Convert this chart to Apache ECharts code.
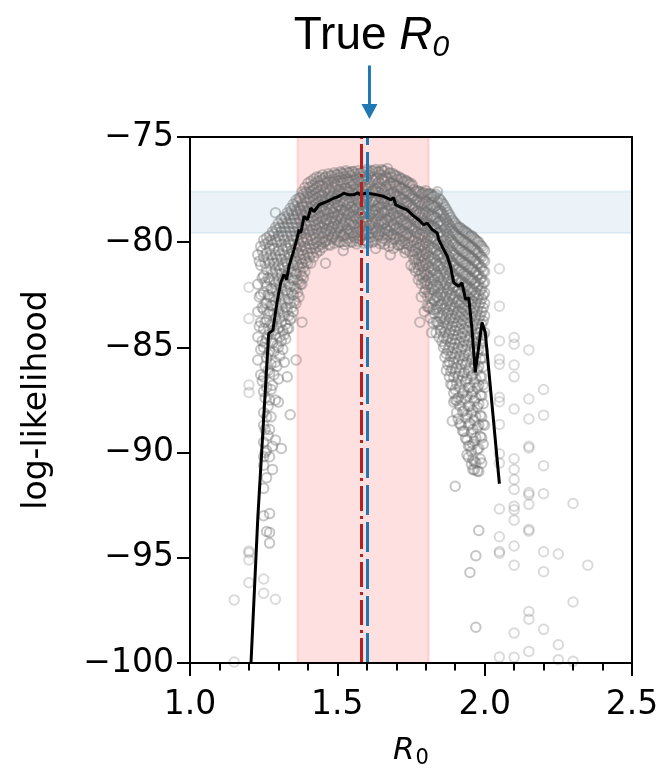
<!DOCTYPE html>
<html>
<head>
<meta charset="utf-8">
<script src="https://cdn.jsdelivr.net/npm/echarts@6/dist/echarts.min.js"></script>
<style>
html,body{margin:0;padding:0;background:#fff;overflow:hidden;}
#chart{width:667px;height:774px;}
</style>
</head>
<body>
<div id="chart"></div>
<script>
// ---------- data ----------
const lineR0 = [1.207,1.230,1.267,1.281,1.297,1.308,1.319,1.328,1.336,1.353,1.365,1.370,1.376,1.387,1.399,1.410,1.421,1.438,1.466,1.489,1.504,1.522,1.538,1.556,1.569,1.579,1.596,1.613,1.636,1.658,1.681,1.691,1.698,1.714,1.737,1.760,1.776,1.793,1.805,1.822,1.839,1.844,1.861,1.873,1.884,1.895,1.912,1.923,1.935,1.946,1.957,1.968,1.980,1.991,2.002,2.050];
const lineLL = [-100.0,-93.13,-84.33,-84.19,-82.72,-81.93,-81.53,-81.77,-81.14,-80.35,-79.72,-79.40,-79.56,-78.77,-78.93,-78.38,-78.54,-78.22,-78.06,-77.90,-77.83,-77.67,-77.75,-77.75,-77.65,-77.75,-77.67,-77.70,-77.75,-77.83,-77.98,-77.89,-78.22,-78.33,-78.46,-78.77,-78.93,-79.17,-79.09,-79.40,-79.56,-79.88,-80.35,-80.67,-81.14,-81.93,-82.09,-81.93,-82.72,-82.64,-84.14,-86.19,-84.93,-83.82,-84.29,-91.48];

const cloudLeft = [
 [1.23, [-80.6,-82.0,-83.3,-84.5,-85.6]],
 [1.24, [-80.2,-81.1,-82.5,-83.8,-85.1,-86.3]],
 [1.25, [-79.9,-80.7,-81.6,-82.4,-83.2,-84.1,-85.0,-86.4,-87.1,-88.1,-88.7,-89.5,-90.2,-90.6,-91.7,-93.0]],
 [1.26, [-79.8,-80.5,-81.3,-82.1,-82.9,-83.7,-84.6,-85.5,-86.9,-88.3,-89.9,-91.2,-93.75]],
 [1.27, [-79.7,-80.3,-81.0,-81.8,-82.6,-83.3,-84.2,-85.2,-86.2,-87.5,-88.9,-90.2,-92.9,-93.8,-94.3]],
 [1.28, [-79.5,-80.1,-80.8,-81.5,-82.3,-83.0,-83.9,-84.8,-86.8,-89.7,-90.8]],
 [1.29, [-78.6,-79.3,-79.9,-80.6,-81.3,-82.0,-82.8,-83.6,-84.4,-85.7,-87.5,-89.4]],
 [1.30, [-79.1,-79.7,-80.4,-81.1,-81.8,-82.5,-83.3,-84.1,-85.0,-86.5,-87.6]],
 [1.31, [-78.9,-79.5,-80.1,-80.8,-81.5,-82.2,-83.0,-83.8,-84.7,-89.8]],
 [1.32, [-78.8,-79.3,-79.9,-80.6,-81.2,-81.9,-82.7,-83.5,-84.4,-85.7]],
 [1.33, [-78.6,-79.1,-79.7,-80.3,-81.0,-81.6,-82.4,-83.2,-84.1,-86.4]],
 [1.34, [-78.4,-78.9,-79.5,-80.1,-80.7,-81.4,-82.1,-82.9,-83.7,-88.2]],
 [1.35, [-78.2,-78.7,-79.3,-79.9,-80.5,-81.1,-81.8,-82.5,-83.3]],
 [1.36, [-78.0,-78.5,-79.1,-79.7,-80.3,-80.9,-81.5,-82.2,-82.9,-85.6]],
 [1.37, [-77.9,-78.4,-78.9,-79.5,-80.1,-80.6,-81.2,-81.9,-82.6]],
 [1.38, [-77.6,-78.2,-78.7,-79.3,-79.9,-80.4,-81.0,-81.6,-82.0,-83.8]],
 [1.39, [-77.4,-77.9,-78.5,-79.1,-79.6,-80.2,-80.8,-81.4]],
 [1.40, [-77.2,-77.7,-78.3,-78.8,-79.4,-79.9,-80.5,-81.0]],
 [1.41, [-77.1,-77.6,-78.1,-78.6,-79.2,-79.7,-80.3,-81.0]],
 [1.42, [-77.0,-77.5,-78.0,-78.5,-79.0,-79.6,-80.1,-80.7]],
 [1.43, [-76.9,-77.4,-77.9,-78.4,-78.9,-79.4,-80.0,-80.5]],
 [1.44, [-76.9,-77.3,-77.8,-78.3,-78.8,-79.3,-79.9,-80.4]]
];
const cloudLeftB = [
 [1.235, [-80.9,-82.6,-84.0]],
 [1.245, [-80.4,-81.7,-83.1,-84.7,-86.6]],
 [1.255, [-80.1,-81.0,-81.9,-82.9,-83.8,-84.8,-85.9,-87.4,-88.9,-90.0]],
 [1.265, [-80.0,-80.8,-81.7,-82.5,-83.4,-84.4,-85.3,-86.1,-87.8,-89.2]],
 [1.275, [-79.9,-80.6,-81.3,-82.2,-83.0,-83.9,-84.7,-85.8,-87.0,-88.3]],
 [1.285, [-79.6,-80.3,-81.0,-81.8,-82.6,-83.4,-84.2,-85.2,-86.3]],
 [1.295, [-79.4,-80.0,-80.8,-81.5,-82.3,-83.1,-83.9,-84.9,-85.9]],
 [1.305, [-79.3,-79.9,-80.6,-81.3,-82.0,-82.8,-83.6,-84.5,-85.4]],
 [1.315, [-79.1,-79.7,-80.4,-81.1,-81.8,-82.5,-83.3,-84.2,-85.1]],
 [1.325, [-78.9,-79.5,-80.2,-80.9,-81.6,-82.3,-83.1,-83.9,-84.6]],
 [1.335, [-78.7,-79.3,-80.0,-80.6,-81.3,-82.0,-82.7,-83.5,-84.1]],
 [1.345, [-78.5,-79.1,-79.7,-80.4,-81.0,-81.7,-82.4,-83.1,-83.6]],
 [1.355, [-78.3,-78.9,-79.5,-80.1,-80.8,-81.4,-82.1,-82.8]],
 [1.365, [-78.1,-78.7,-79.3,-79.9,-80.5,-81.1,-81.8,-82.4]],
 [1.375, [-77.9,-78.5,-79.0,-79.6,-80.2,-80.8,-81.4,-82.0]],
 [1.385, [-77.7,-78.3,-78.8,-79.4,-80.0,-80.6,-81.2,-81.7]],
 [1.395, [-77.6,-78.1,-78.6,-79.2,-79.8,-80.3,-80.9]],
 [1.405, [-77.4,-77.9,-78.4,-79.0,-79.5,-80.1,-80.7]],
 [1.415, [-77.3,-77.8,-78.3,-78.8,-79.4,-79.9,-80.5]],
 [1.425, [-77.2,-77.7,-78.2,-78.7,-79.2,-79.8,-80.3]],
 [1.435, [-77.1,-77.6,-78.1,-78.6,-79.1,-79.6,-80.2]],
 [1.445, [-77.05,-77.55,-78.05,-78.55,-79.05,-79.55,-80.1]]
];

const cloudPeak = [
 [1.45, [-76.80,-77.30,-77.80,-78.30,-78.80,-79.30,-79.80,-80.25]],
 [1.46, [-76.90,-77.45,-77.95,-78.45,-78.95,-79.45,-79.95,-81.00]],
 [1.47, [-76.75,-77.15,-77.65,-78.15,-78.65,-79.15,-79.65,-80.10]],
 [1.48, [-76.85,-77.35,-77.85,-78.35,-78.85,-79.35,-79.85]],
 [1.49, [-76.70,-77.10,-77.60,-78.10,-78.60,-79.10,-79.60,-80.05]],
 [1.50, [-76.80,-77.30,-77.80,-78.25,-78.75,-79.25,-79.75]],
 [1.51, [-76.65,-77.05,-77.55,-78.05,-78.50,-79.00,-79.50,-80.00]],
 [1.52, [-76.75,-77.20,-77.70,-78.20,-78.70,-79.20,-79.70,-80.40]],
 [1.53, [-76.60,-77.00,-77.45,-77.95,-78.45,-78.95,-79.45,-79.95]],
 [1.54, [-76.70,-77.15,-77.65,-78.15,-78.65,-79.15,-79.65]],
 [1.55, [-76.65,-77.05,-77.55,-78.05,-78.55,-79.05,-79.55,-80.00]],
 [1.56, [-76.75,-77.25,-77.75,-78.25,-78.75,-79.25,-79.80]],
 [1.57, [-76.60,-77.00,-77.50,-78.00,-78.50,-79.00,-79.50,-79.95]],
 [1.58, [-76.70,-77.20,-77.70,-78.20,-78.70,-79.20,-79.70]],
 [1.59, [-76.65,-77.10,-77.60,-78.10,-78.60,-79.10,-79.60,-80.05]],
 [1.60, [-76.55,-77.00,-77.45,-77.95,-78.45,-78.95,-79.45,-79.95]],
 [1.61, [-76.70,-77.20,-77.70,-78.20,-78.70,-79.20,-79.75]],
 [1.62, [-76.60,-77.05,-77.55,-78.05,-78.55,-79.05,-79.55,-80.00]],
 [1.63, [-76.55,-77.00,-77.50,-78.00,-78.50,-79.00,-79.50,-80.30]],
 [1.64, [-76.65,-77.15,-77.65,-78.15,-78.65,-79.15,-79.65]],
 [1.65, [-76.55,-77.00,-77.45,-77.95,-78.45,-78.95,-79.45,-79.95]],
 [1.66, [-76.60,-77.10,-77.60,-78.10,-78.60,-79.10,-79.60,-80.10]],
 [1.67, [-76.50,-76.95,-77.45,-77.95,-78.45,-78.95,-79.45,-79.65]],
 [1.68, [-76.70,-77.20,-77.70,-78.20,-78.70,-79.20,-79.70,-80.60]],
 [1.69, [-76.75,-77.20,-77.65,-78.15,-78.65,-79.15,-79.65,-80.30]],
 [1.70, [-76.85,-77.30,-77.80,-78.30,-78.80,-79.30,-79.80]],
 [1.71, [-76.90,-77.35,-77.85,-78.35,-78.85,-79.35,-79.85,-80.15]],
 [1.72, [-77.00,-77.45,-77.95,-78.45,-78.95,-79.45,-79.95]],
 [1.73, [-77.05,-77.55,-78.05,-78.55,-79.05,-79.55,-80.05,-80.50]],
 [1.74, [-77.15,-77.60,-78.10,-78.60,-79.10,-79.60,-80.10]],
 [1.75, [-77.20,-77.70,-78.20,-78.70,-79.20,-79.70,-80.20,-81.10]]
];
const cloudPeakB = [
 [1.455, [-76.95,-77.62,-78.11,-78.49,-79.12,-79.58,-80.02]],
 [1.465, [-77.08,-77.41,-77.98,-78.61,-78.92,-79.37,-79.91]],
 [1.475, [-76.84,-77.52,-77.89,-78.42,-79.03,-79.48,-80.15]],
 [1.485, [-77.01,-77.38,-78.02,-78.57,-78.83,-79.27,-79.76]],
 [1.495, [-76.78,-77.27,-77.93,-78.36,-78.97,-79.52,-79.88]],
 [1.505, [-76.92,-77.49,-77.81,-78.28,-78.71,-79.33,-79.97]],
 [1.515, [-76.71,-77.18,-77.71,-78.44,-78.86,-79.21,-79.69]],
 [1.525, [-76.88,-77.42,-78.08,-78.52,-79.08,-79.61,-80.12]],
 [1.535, [-76.69,-77.13,-77.63,-78.19,-78.67,-79.38,-79.82]],
 [1.545, [-76.83,-77.36,-77.87,-78.33,-78.94,-79.46,-79.98]],
 [1.555, [-76.64,-77.22,-77.68,-78.46,-78.78,-79.16,-79.72]],
 [1.565, [-76.91,-77.47,-77.96,-78.38,-78.89,-79.53,-80.08]],
 [1.575, [-76.73,-77.11,-77.58,-78.13,-78.63,-79.28,-79.84]],
 [1.585, [-76.86,-77.39,-77.91,-78.54,-79.02,-79.43,-79.93]],
 [1.595, [-76.67,-77.26,-77.74,-78.22,-78.81,-79.24,-79.66]],
 [1.605, [-76.81,-77.33,-77.84,-78.41,-78.96,-79.57,-80.03]],
 [1.615, [-76.62,-77.16,-77.66,-78.07,-78.69,-79.19,-79.77]],
 [1.625, [-76.89,-77.44,-77.99,-78.48,-78.87,-79.41,-79.94]],
 [1.635, [-76.66,-77.21,-77.61,-78.26,-78.73,-79.32,-79.71]],
 [1.645, [-76.79,-77.37,-77.88,-78.35,-79.01,-79.49,-80.07]],
 [1.655, [-76.61,-77.09,-77.69,-78.17,-78.61,-79.14,-79.81]],
 [1.665, [-76.84,-77.34,-77.94,-78.51,-78.93,-79.36,-79.89]],
 [1.675, [-76.72,-77.28,-77.76,-78.24,-78.84,-79.47,-80.21]],
 [1.685, [-76.93,-77.48,-78.01,-78.43,-78.98,-79.62,-80.04]],
 [1.695, [-76.82,-77.31,-77.83,-78.37,-78.91,-79.39,-79.86]],
 [1.705, [-77.02,-77.56,-78.09,-78.58,-79.06,-79.59,-80.13]],
 [1.715, [-76.97,-77.43,-77.97,-78.46,-78.99,-79.51,-80.09]],
 [1.725, [-77.13,-77.67,-78.16,-78.68,-79.18,-79.73,-80.28]],
 [1.735, [-77.09,-77.58,-78.12,-78.62,-79.14,-79.66,-80.36]],
 [1.745, [-77.24,-77.76,-78.27,-78.77,-79.29,-79.81,-80.44]],
 [1.755, [-77.31,-77.83,-78.34,-78.86,-79.37,-79.92,-80.58]]
];

const cloudRight = [
 [1.76, [-77.50,-77.95,-78.45,-78.95,-79.45,-79.95,-80.45,-80.85,-81.20]],
 [1.77, [-77.55,-78.05,-78.55,-79.05,-79.55,-80.05,-80.55,-81.05]],
 [1.78, [-77.60,-78.10,-78.60,-79.10,-79.60,-80.10,-80.60,-81.10,-81.60,-83.80]],
 [1.79, [-77.65,-78.15,-78.65,-79.15,-79.65,-80.15,-80.65,-81.15,-81.70]],
 [1.80, [-77.55,-78.05,-78.55,-79.05,-79.55,-80.05,-80.55,-81.05,-81.55,-81.85,-82.25]],
 [1.81, [-77.70,-78.20,-78.70,-79.20,-79.70,-80.20,-80.70,-81.20,-81.70,-82.40,-83.10]],
 [1.82, [-77.75,-78.25,-78.75,-79.25,-79.75,-80.25,-80.75,-81.25,-81.75,-82.25,-82.90,-84.30]],
 [1.83, [-77.80,-78.30,-78.80,-79.30,-79.80,-80.30,-80.80,-81.30,-81.80,-82.30,-82.80,-83.40]],
 [1.84, [-77.60,-78.10,-78.60,-79.10,-79.60,-80.10,-80.60,-81.10,-81.60,-82.10,-82.60,-83.10,-83.80]],
 [1.85, [-78.00,-78.50,-79.00,-79.50,-80.00,-80.50,-81.00,-81.50,-82.00,-82.50,-83.00,-83.60,-84.20]],
 [1.86, [-78.20,-78.70,-79.20,-79.70,-80.20,-80.70,-81.20,-81.70,-82.20,-82.70,-83.20,-83.80,-84.50,-85.00]],
 [1.87, [-78.45,-78.95,-79.45,-79.95,-80.45,-80.95,-81.45,-81.95,-82.45,-82.95,-83.45,-84.00,-84.60,-85.30,-86.10]],
 [1.88, [-78.70,-79.20,-79.70,-80.20,-80.70,-81.20,-81.70,-82.20,-82.70,-83.20,-83.70,-84.30,-85.00,-85.70,-86.40]],
 [1.89, [-78.95,-79.45,-79.95,-80.45,-80.95,-81.45,-81.95,-82.45,-82.95,-83.45,-84.00,-84.60,-85.30,-86.00,-86.80,-88.50]],
 [1.90, [-79.10,-79.60,-80.10,-80.60,-81.10,-81.60,-82.10,-82.60,-83.10,-83.60,-84.20,-84.80,-85.50,-86.20,-87.00,-87.50,-91.60]],
 [1.91, [-79.30,-79.80,-80.30,-80.80,-81.30,-81.80,-82.30,-82.80,-83.30,-83.80,-84.40,-85.00,-85.60,-86.40,-87.40,-88.40]],
 [1.92, [-79.35,-79.85,-80.35,-80.85,-81.35,-81.85,-82.35,-82.85,-83.35,-83.90,-84.50,-85.10,-85.80,-86.60,-87.50,-88.70]],
 [1.93, [-79.45,-79.95,-80.45,-80.95,-81.45,-81.95,-82.45,-82.95,-83.50,-84.10,-84.70,-85.40,-86.20,-87.10,-88.00,-89.00]],
 [1.94, [-79.55,-80.05,-80.55,-81.05,-81.55,-82.05,-82.55,-83.05,-83.60,-84.20,-84.90,-85.70,-86.50,-87.30,-88.20,-89.40,-90.10]],
 [1.95, [-79.70,-80.20,-80.70,-81.20,-81.70,-82.20,-82.70,-83.20,-83.80,-84.50,-85.20,-86.00,-86.90,-87.80,-88.60,-89.70,-95.70]],
 [1.96, [-79.75,-80.25,-80.75,-81.25,-81.75,-82.25,-82.80,-83.40,-84.00,-84.70,-85.50,-86.30,-87.10,-88.00,-88.90,-89.60,-90.30,-90.80]],
 [1.97, [-79.90,-80.40,-80.90,-81.40,-81.90,-82.40,-82.90,-83.50,-84.10,-84.80,-85.60,-86.50,-87.40,-88.30,-89.30,-90.50,-94.90,-98.30]],
 [1.98, [-80.00,-80.50,-81.00,-81.50,-82.00,-82.50,-83.00,-83.60,-84.30,-85.10,-85.90,-86.80,-87.70,-88.70,-89.80,-90.90,-93.70]],
 [1.99, [-80.20,-80.70,-81.20,-81.70,-82.20,-82.70,-83.30,-83.90,-84.60,-85.50,-86.40,-87.30,-88.30,-89.30,-90.50]],
 [2.00, [-80.40,-80.90,-81.40,-81.90,-82.40,-82.90,-83.50,-84.30,-86.90,-88.70]]
];
const cloudRightB = [
 [1.765, [-77.62,-78.21,-78.73,-79.26,-79.74,-80.31,-80.82,-81.37]],
 [1.775, [-77.58,-78.14,-78.67,-79.19,-79.81,-80.28,-80.79,-81.31,-81.78]],
 [1.785, [-77.71,-78.26,-78.81,-79.33,-79.86,-80.39,-80.92,-81.48,-81.97,-82.60]],
 [1.795, [-77.66,-78.18,-78.71,-79.23,-79.77,-80.33,-80.86,-81.41,-81.93,-82.38,-83.30]],
 [1.805, [-77.74,-78.29,-78.84,-79.38,-79.91,-80.44,-80.98,-81.52,-82.03,-82.57,-83.05]],
 [1.815, [-77.69,-78.23,-78.77,-79.31,-79.84,-80.37,-80.91,-81.44,-81.99,-82.54,-83.12,-83.60]],
 [1.825, [-77.83,-78.36,-78.89,-79.42,-79.96,-80.49,-81.02,-81.56,-82.11,-82.66,-83.21,-83.82]],
 [1.835, [-77.72,-78.27,-78.82,-79.36,-79.89,-80.42,-80.96,-81.49,-82.04,-82.61,-83.18,-83.77,-84.30]],
 [1.845, [-77.94,-78.47,-79.01,-79.54,-80.07,-80.61,-81.14,-81.68,-82.22,-82.78,-83.34,-83.93,-84.52]],
 [1.855, [-78.12,-78.64,-79.17,-79.69,-80.22,-80.76,-81.29,-81.83,-82.37,-82.92,-83.48,-84.06,-84.71]],
 [1.865, [-78.33,-78.86,-79.38,-79.91,-80.43,-80.97,-81.51,-82.04,-82.58,-83.13,-83.69,-84.27,-84.88,-85.47]],
 [1.875, [-78.58,-79.09,-79.61,-80.13,-80.66,-81.18,-81.72,-82.26,-82.81,-83.36,-83.93,-84.51,-85.14,-85.82]],
 [1.885, [-78.82,-79.33,-79.86,-80.38,-80.91,-81.43,-81.97,-82.51,-83.05,-83.61,-84.18,-84.79,-85.43,-86.12,-86.75]],
 [1.895, [-79.03,-79.54,-80.06,-80.58,-81.11,-81.64,-82.17,-82.71,-83.26,-83.82,-84.41,-85.03,-85.71,-86.42,-87.18,-87.60]],
 [1.905, [-79.21,-79.72,-80.24,-80.77,-81.29,-81.82,-82.36,-82.89,-83.45,-84.02,-84.62,-85.27,-85.96,-86.71,-87.52,-88.10]],
 [1.915, [-79.29,-79.81,-80.33,-80.86,-81.38,-81.91,-82.45,-82.99,-83.56,-84.14,-84.76,-85.42,-86.13,-86.91,-87.77,-88.62]],
 [1.925, [-79.43,-79.94,-80.46,-80.99,-81.52,-82.05,-82.59,-83.14,-83.71,-84.31,-84.95,-85.63,-86.37,-87.18,-88.06,-88.97]],
 [1.935, [-79.51,-80.02,-80.54,-81.07,-81.61,-82.14,-82.69,-83.26,-83.84,-84.46,-85.12,-85.84,-86.62,-87.45,-88.36,-89.31]],
 [1.945, [-79.62,-80.14,-80.66,-81.19,-81.73,-82.27,-82.83,-83.41,-84.02,-84.66,-85.36,-86.11,-86.92,-87.79,-88.71,-89.68,-90.22]],
 [1.955, [-79.69,-80.21,-80.74,-81.28,-81.82,-82.37,-82.94,-83.54,-84.17,-84.85,-85.58,-86.37,-87.22,-88.12,-89.07,-89.95,-90.55]],
 [1.965, [-79.84,-80.36,-80.89,-81.43,-81.98,-82.54,-83.12,-83.73,-84.38,-85.08,-85.84,-86.66,-87.54,-88.48,-89.46,-90.42,-90.82]],
 [1.975, [-79.96,-80.48,-81.01,-81.56,-82.11,-82.68,-83.27,-83.89,-84.56,-85.28,-86.07,-86.92,-87.83,-88.81,-89.84,-90.88]],
 [1.985, [-80.13,-80.66,-81.19,-81.74,-82.31,-82.89,-83.49,-84.13,-84.82,-85.57,-86.39,-87.27,-88.22,-89.23,-90.31]],
 [1.995, [-80.31,-80.84,-81.38,-81.93,-82.51,-83.11,-83.74,-84.41,-85.14,-85.92,-86.77,-87.68,-88.65,-89.60]]
];

const tailLeft = [
 [1.15, [-97.0,-99.95]],
 [1.20, [-82.14,-83.63,-86.79,-87.14,-94.68,-94.76,-95.10,-96.18]],
 [1.25, [-96.01,-96.69]],
 [1.29, [-96.97]]
];
const tailRight = [
 [2.05, [-81.26,-83.04,-84.69,-85.56,-85.80,-87.37,-87.58,-88.66,-90.06,-90.50,-92.68,-94.00,-94.70,-94.78,-99.72]],
 [2.10, [-84.53,-84.85,-85.84,-86.40,-87.93,-90.29,-90.80,-91.28,-91.75,-92.55,-92.72,-93.21,-94.44,-95.35,-98.58,-99.73]],
 [2.15, [-85.12,-87.45,-88.40,-89.70,-89.78,-91.90,-92.00,-92.46,-93.65,-93.73,-97.55,-97.92,-99.45]],
 [2.20, [-87.00,-88.22,-90.62,-91.95,-94.71,-95.66,-98.40]],
 [2.25, [-94.82,-99.13,-99.84]],
 [2.30, [-92.42,-97.10,-99.92]],
 [2.35, [-95.35]]
];

const mleR0 = 1.579;
const trueR0 = 1.60;
const ciR0 = [1.365, 1.810];
const llBand = [-77.59, -79.56];
const xRange = [1.0, 2.5];
const yRange = [-100, -75];
const arrowR0 = 1.609;
const arrowLL = [-71.6, -74.15];

// ---------- build ----------
function flatten(groups) {
  const out = [];
  groups.forEach(g => g.forEach(([x, ys]) => ys.forEach(y => out.push([x, y]))));
  return out;
}
const cloudData = flatten([cloudLeft, cloudLeftB, cloudPeak, cloudPeakB, cloudRight, cloudRightB]);
const tailData = flatten([tailLeft, tailRight]);
const lineData = lineR0.map((x, i) => [x, lineLL[i]]);

const chart = echarts.init(document.getElementById('chart'), null, {renderer: 'canvas', width: 667, height: 774});
const axisFont = 'DejaVu Sans';
const spine = {show: true, onZero: false, lineStyle: {color: '#000', width: 2}};

chart.setOption({
  animation: false,
  backgroundColor: '#fff',
  grid: {left: 190, top: 137, width: 442, height: 528, containLabel: false},
  xAxis: [{
    type: 'value', min: xRange[0], max: xRange[1], interval: 0.5, position: 'bottom', z: 10,
    name: '{r|R}{s|0}', nameLocation: 'middle', nameGap: 70,
    nameTextStyle: {rich: {
      r: {fontFamily: axisFont, fontStyle: 'italic', fontSize: 31, color: '#000', verticalAlign: 'middle'},
      s: {fontFamily: axisFont, fontSize: 21, color: '#000', padding: [15, 0, 0, 1], verticalAlign: 'middle'}
    }},
    axisLine: spine,
    axisTick: {show: true, length: 13, lineStyle: {color: '#000', width: 2}},
    minorTick: {show: true, splitNumber: 5, length: 7.5, lineStyle: {color: '#000', width: 2}},
    axisLabel: {color: '#000', fontSize: 33, fontFamily: axisFont, margin: 26, formatter: v => v.toFixed(1)},
    splitLine: {show: false}
  }, {
    type: 'value', min: xRange[0], max: xRange[1], position: 'top', z: 10,
    axisLine: spine, axisTick: {show: false}, axisLabel: {show: false}, splitLine: {show: false}
  }],
  yAxis: [{
    type: 'value', min: yRange[0], max: yRange[1], interval: 5, z: 10,
    name: 'log-likelihood', nameLocation: 'middle', nameGap: 136,
    nameTextStyle: {fontSize: 33, fontFamily: axisFont, color: '#000'},
    axisLine: spine,
    axisTick: {show: true, length: 13, lineStyle: {color: '#000', width: 2}},
    axisLabel: {color: '#000', fontSize: 33, fontFamily: axisFont, margin: 16,
      formatter: v => (v < 0 ? '\u2212' + Math.abs(v) : String(v))},
    splitLine: {show: false}
  }, {
    type: 'value', min: yRange[0], max: yRange[1], position: 'right', z: 10,
    axisLine: spine, axisTick: {show: false}, axisLabel: {show: false}, splitLine: {show: false}
  }],
  series: [
    {
      type: 'line', data: [], z: 1, silent: true,
      markArea: {silent: true, data: [
        [{xAxis: ciR0[0], itemStyle: {color: 'rgba(255,0,0,0.12)', borderColor: 'rgba(255,0,0,0.12)', borderWidth: 2}}, {xAxis: ciR0[1]}],
        [{yAxis: llBand[0], itemStyle: {color: 'rgba(31,119,180,0.09)', borderColor: 'rgba(31,119,180,0.09)', borderWidth: 2}}, {yAxis: llBand[1]}]
      ]}
    },
    {
      type: 'scatter', data: cloudData, z: 2, silent: true, large: false,
      symbol: 'circle', symbolSize: 9.5,
      itemStyle: {color: 'rgba(0,0,0,0)', borderColor: 'rgba(110,110,110,0.50)', borderWidth: 2}
    },
    {
      type: 'scatter', data: tailData, z: 2, silent: true, large: false,
      symbol: 'circle', symbolSize: 9.5,
      itemStyle: {color: 'rgba(0,0,0,0)', borderColor: 'rgba(128,128,128,0.36)', borderWidth: 2}
    },
    {
      type: 'line', data: [], z: 3, silent: true,
      markLine: {silent: true, symbol: ['none', 'none'], label: {show: false}, data: [
        {xAxis: mleR0, lineStyle: {color: '#b22222', width: 3, type: [25, 5, 3, 5]}},
        {xAxis: trueR0, lineStyle: {color: '#1f77b4', width: 3, type: [30, 7]}}
      ]}
    },
    {
      type: 'line', data: lineData, z: 4, silent: true, showSymbol: false, symbol: 'none',
      lineStyle: {color: '#000', width: 3}
    }
  ]
});

// annotation: arrow + title placed through the axes' scales
const pTop = chart.convertToPixel({xAxisIndex: 0, yAxisIndex: 0}, [arrowR0, arrowLL[0]]);
const pTip = chart.convertToPixel({xAxisIndex: 0, yAxisIndex: 0}, [arrowR0, arrowLL[1]]);
const headH = 15, headW = 8;
chart.setOption({
  graphic: [
    {type: 'line', z: 20, shape: {x1: pTop[0], y1: pTop[1], x2: pTip[0], y2: pTip[1] - headH + 1},
     style: {stroke: '#1f77b4', lineWidth: 3}},
    {type: 'polygon', z: 20, shape: {points: [[pTip[0] - headW, pTip[1] - headH], [pTip[0] + headW, pTip[1] - headH], [pTip[0], pTip[1]]]},
     style: {fill: '#1f77b4'}},
    {type: 'text', z: 20, x: pTop[0] + 2, y: 36,
     style: {
       text: '{a|True }{b|R}{c|0}', align: 'center', verticalAlign: 'middle',
       rich: {
         a: {fontFamily: 'Liberation Sans', fontSize: 46, fill: '#000', verticalAlign: 'middle'},
         b: {fontFamily: 'Liberation Sans', fontStyle: 'italic', fontSize: 46, fill: '#000', verticalAlign: 'middle'},
         c: {fontFamily: 'Liberation Sans', fontStyle: 'italic', fontSize: 30, fill: '#000', padding: [24, 0, 0, 0], verticalAlign: 'middle'}
       }
     }}
  ]
});
</script>
</body>
</html>
